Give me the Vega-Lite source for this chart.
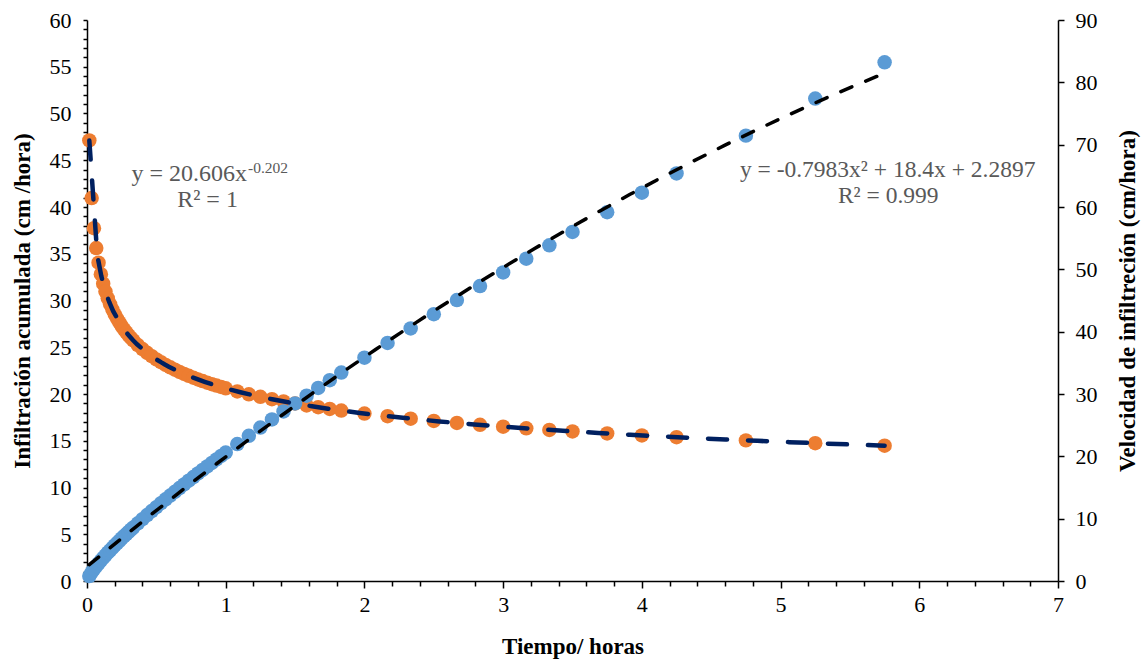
{
  "$schema": "https://vega.github.io/schema/vega-lite/v6.json",
  "width": 971,
  "height": 561,
  "autosize": {"type": "none"},
  "padding": {"left": 87, "top": 20, "right": 83, "bottom": 79},
  "background": "white",
  "config": {
    "view": {"stroke": null},
    "font": "Liberation Serif",
    "axis": {
      "grid": false,
      "domainColor": "#000000",
      "domainWidth": 1.5,
      "tickColor": "#000000",
      "tickWidth": 1.5,
      "labelColor": "#000000",
      "labelFont": "Liberation Serif",
      "labelFontSize": 22,
      "titleFont": "Liberation Serif",
      "titleFontSize": 23,
      "titleFontWeight": "bold",
      "titleColor": "#000000",
      "labelOverlap": false,
      "labelBound": false,
      "labelFlush": false
    }
  },
  "data": {
    "values": [
      {"tiempo": 0.0167, "acumulada": 47.12, "velocidad": 0.79},
      {"tiempo": 0.0333, "acumulada": 40.96, "velocidad": 1.37},
      {"tiempo": 0.05, "acumulada": 37.74, "velocidad": 1.89},
      {"tiempo": 0.0667, "acumulada": 35.61, "velocidad": 2.37},
      {"tiempo": 0.0833, "acumulada": 34.04, "velocidad": 2.84},
      {"tiempo": 0.1, "acumulada": 32.81, "velocidad": 3.28},
      {"tiempo": 0.1167, "acumulada": 31.8, "velocidad": 3.71},
      {"tiempo": 0.1333, "acumulada": 30.96, "velocidad": 4.13},
      {"tiempo": 0.15, "acumulada": 30.23, "velocidad": 4.54},
      {"tiempo": 0.1667, "acumulada": 29.59, "velocidad": 4.93},
      {"tiempo": 0.1833, "acumulada": 29.03, "velocidad": 5.32},
      {"tiempo": 0.2, "acumulada": 28.52, "velocidad": 5.7},
      {"tiempo": 0.2167, "acumulada": 28.07, "velocidad": 6.08},
      {"tiempo": 0.2333, "acumulada": 27.65, "velocidad": 6.45},
      {"tiempo": 0.25, "acumulada": 27.27, "velocidad": 6.82},
      {"tiempo": 0.2667, "acumulada": 26.91, "velocidad": 7.18},
      {"tiempo": 0.2833, "acumulada": 26.59, "velocidad": 7.53},
      {"tiempo": 0.3, "acumulada": 26.28, "velocidad": 7.88},
      {"tiempo": 0.3167, "acumulada": 25.99, "velocidad": 8.23},
      {"tiempo": 0.3333, "acumulada": 25.73, "velocidad": 8.58},
      {"tiempo": 0.3667, "acumulada": 25.24, "velocidad": 9.25},
      {"tiempo": 0.4, "acumulada": 24.8, "velocidad": 9.92},
      {"tiempo": 0.4333, "acumulada": 24.4, "velocidad": 10.57},
      {"tiempo": 0.4667, "acumulada": 24.04, "velocidad": 11.22},
      {"tiempo": 0.5, "acumulada": 23.7, "velocidad": 11.85},
      {"tiempo": 0.5333, "acumulada": 23.4, "velocidad": 12.48},
      {"tiempo": 0.5667, "acumulada": 23.11, "velocidad": 13.1},
      {"tiempo": 0.6, "acumulada": 22.85, "velocidad": 13.71},
      {"tiempo": 0.6333, "acumulada": 22.6, "velocidad": 14.31},
      {"tiempo": 0.6667, "acumulada": 22.36, "velocidad": 14.91},
      {"tiempo": 0.7, "acumulada": 22.15, "velocidad": 15.5},
      {"tiempo": 0.7333, "acumulada": 21.94, "velocidad": 16.09},
      {"tiempo": 0.7667, "acumulada": 21.74, "velocidad": 16.67},
      {"tiempo": 0.8, "acumulada": 21.56, "velocidad": 17.25},
      {"tiempo": 0.8333, "acumulada": 21.38, "velocidad": 17.82},
      {"tiempo": 0.8667, "acumulada": 21.21, "velocidad": 18.38},
      {"tiempo": 0.9, "acumulada": 21.05, "velocidad": 18.94},
      {"tiempo": 0.9333, "acumulada": 20.9, "velocidad": 19.5},
      {"tiempo": 0.9667, "acumulada": 20.75, "velocidad": 20.06},
      {"tiempo": 1.0, "acumulada": 20.61, "velocidad": 20.61},
      {"tiempo": 1.0833, "acumulada": 20.28, "velocidad": 21.97},
      {"tiempo": 1.1667, "acumulada": 19.97, "velocidad": 23.3},
      {"tiempo": 1.25, "acumulada": 19.7, "velocidad": 24.62},
      {"tiempo": 1.3333, "acumulada": 19.44, "velocidad": 25.92},
      {"tiempo": 1.4167, "acumulada": 19.21, "velocidad": 27.21},
      {"tiempo": 1.5, "acumulada": 18.99, "velocidad": 28.48},
      {"tiempo": 1.5833, "acumulada": 18.78, "velocidad": 29.73},
      {"tiempo": 1.6667, "acumulada": 18.59, "velocidad": 30.98},
      {"tiempo": 1.75, "acumulada": 18.4, "velocidad": 32.21},
      {"tiempo": 1.8333, "acumulada": 18.23, "velocidad": 33.43},
      {"tiempo": 2.0, "acumulada": 17.91, "velocidad": 35.83},
      {"tiempo": 2.1667, "acumulada": 17.63, "velocidad": 38.19},
      {"tiempo": 2.3333, "acumulada": 17.36, "velocidad": 40.52},
      {"tiempo": 2.5, "acumulada": 17.12, "velocidad": 42.81},
      {"tiempo": 2.6667, "acumulada": 16.9, "velocidad": 45.07},
      {"tiempo": 2.8333, "acumulada": 16.7, "velocidad": 47.31},
      {"tiempo": 3.0, "acumulada": 16.5, "velocidad": 49.51},
      {"tiempo": 3.1667, "acumulada": 16.33, "velocidad": 51.7},
      {"tiempo": 3.3333, "acumulada": 16.16, "velocidad": 53.86},
      {"tiempo": 3.5, "acumulada": 16.0, "velocidad": 56.0},
      {"tiempo": 3.75, "acumulada": 15.78, "velocidad": 59.16},
      {"tiempo": 4.0, "acumulada": 15.57, "velocidad": 62.29},
      {"tiempo": 4.25, "acumulada": 15.38, "velocidad": 65.38},
      {"tiempo": 4.75, "acumulada": 15.04, "velocidad": 71.45},
      {"tiempo": 5.25, "acumulada": 14.74, "velocidad": 77.39},
      {"tiempo": 5.75, "acumulada": 14.47, "velocidad": 83.21}
    ]
  },
  "encoding": {
    "x": {
      "field": "tiempo",
      "type": "quantitative",
      "title": "Tiempo/ horas",
      "scale": {"domain": [0, 7], "nice": false, "zero": true},
      "axis": {
        "values": [0, 0.2, 0.4, 0.6, 0.8, 1, 1.2, 1.4, 1.6, 1.8, 2, 2.2, 2.4, 2.6, 2.8, 3, 3.2, 3.4, 3.6, 3.8, 4, 4.2, 4.4, 4.6, 4.8, 5, 5.2, 5.4, 5.6, 5.8, 6, 6.2, 6.4, 6.6, 6.8, 7],
        "labelExpr": "datum.value % 1 === 0 ? format(datum.value, 'd') : ''",
        "tickSize": {"condition": {"test": "datum.value % 1 === 0", "value": 7}, "value": 5},
        "labelPadding": 6,
        "titleX": 485.5,
        "titleY": 65,
        "titleBaseline": "middle",
        "titleAlign": "center"
      }
    }
  },
  "layer": [
    {
      "mark": {"type": "point", "filled": true, "size": 210, "color": "#ED7D31", "opacity": 1},
      "encoding": {
        "y": {
          "field": "acumulada",
          "type": "quantitative",
          "title": "Infiltración acumulada (cm /hora)",
          "scale": {"domain": [0, 60], "nice": false},
          "axis": {
            "orient": "left",
            "values": [0, 1, 2, 3, 4, 5, 6, 7, 8, 9, 10, 11, 12, 13, 14, 15, 16, 17, 18, 19, 20, 21, 22, 23, 24, 25, 26, 27, 28, 29, 30, 31, 32, 33, 34, 35, 36, 37, 38, 39, 40, 41, 42, 43, 44, 45, 46, 47, 48, 49, 50, 51, 52, 53, 54, 55, 56, 57, 58, 59, 60],
            "labelExpr": "datum.value % 5 === 0 ? format(datum.value, 'd') : ''",
            "tickSize": 4,
            "labelPadding": 12,
            "titleX": -65,
            "titleY": 280.5,
            "titleAngle": -90,
            "titleAlign": "center",
            "titleBaseline": "middle"
          }
        }
      }
    },
    {
      "mark": {"type": "point", "filled": true, "size": 210, "color": "#5B9BD5", "opacity": 1},
      "encoding": {
        "y": {
          "field": "velocidad",
          "type": "quantitative",
          "title": "Velocidad de infiltreción (cm/hora)",
          "scale": {"domain": [0, 90], "nice": false},
          "axis": {
            "orient": "right",
            "values": [0, 10, 20, 30, 40, 50, 60, 70, 80, 90],
            "tickSize": 6,
            "labelPadding": 11,
            "titleX": 69,
            "titleY": 280.5,
            "titleAngle": -90,
            "titleAlign": "center",
            "titleBaseline": "middle"
          }
        }
      }
    },
    {
      "transform": [{"regression": "acumulada", "on": "tiempo", "method": "pow"}],
      "mark": {"type": "line", "color": "#002060", "strokeWidth": 4.5, "strokeDash": [19, 21], "strokeCap": "round"},
      "encoding": {
        "y": {"field": "acumulada", "type": "quantitative", "scale": {"domain": [0, 60], "nice": false}, "axis": null}
      }
    },
    {
      "transform": [{"regression": "velocidad", "on": "tiempo", "method": "poly", "order": 2}],
      "mark": {"type": "line", "color": "#000000", "strokeWidth": 3.5, "strokeDash": [12, 15], "strokeCap": "round"},
      "encoding": {
        "y": {"field": "velocidad", "type": "quantitative", "scale": {"domain": [0, 90], "nice": false}, "axis": null}
      }
    },
    {
      "transform": [{"filter": "datum.tiempo === 5.75"}],
      "mark": {"type": "text", "text": "y = 20.606x", "font": "Liberation Serif", "fontSize": 24, "color": "#595959", "align": "right", "baseline": "alphabetic"},
      "encoding": {
        "x": {"datum": 1.154, "type": "quantitative"},
        "y": {"datum": 42.78, "type": "quantitative", "scale": {"domain": [0, 60], "nice": false}, "axis": null}
      }
    },
    {
      "transform": [{"filter": "datum.tiempo === 5.75"}],
      "mark": {"type": "text", "text": "-0.202", "font": "Liberation Serif", "fontSize": 15.5, "color": "#595959", "align": "left", "baseline": "alphabetic"},
      "encoding": {
        "x": {"datum": 1.161, "type": "quantitative"},
        "y": {"datum": 43.6, "type": "quantitative", "scale": {"domain": [0, 60], "nice": false}, "axis": null}
      }
    },
    {
      "transform": [{"filter": "datum.tiempo === 5.75"}],
      "mark": {"type": "text", "text": "R² = 1", "font": "Liberation Serif", "fontSize": 24, "color": "#595959", "align": "center", "baseline": "alphabetic"},
      "encoding": {
        "x": {"datum": 0.869, "type": "quantitative"},
        "y": {"datum": 40.0, "type": "quantitative", "scale": {"domain": [0, 60], "nice": false}, "axis": null}
      }
    },
    {
      "transform": [{"filter": "datum.tiempo === 5.75"}],
      "mark": {"type": "text", "text": "y = -0.7983x² + 18.4x + 2.2897", "font": "Liberation Serif", "fontSize": 23.5, "color": "#595959", "align": "center", "baseline": "alphabetic"},
      "encoding": {
        "x": {"datum": 5.772, "type": "quantitative"},
        "y": {"datum": 64.77, "type": "quantitative", "scale": {"domain": [0, 90], "nice": false}, "axis": null}
      }
    },
    {
      "transform": [{"filter": "datum.tiempo === 5.75"}],
      "mark": {"type": "text", "text": "R² = 0.999", "font": "Liberation Serif", "fontSize": 23.5, "color": "#595959", "align": "center", "baseline": "alphabetic"},
      "encoding": {
        "x": {"datum": 5.776, "type": "quantitative"},
        "y": {"datum": 60.6, "type": "quantitative", "scale": {"domain": [0, 90], "nice": false}, "axis": null}
      }
    }
  ],
  "resolve": {"scale": {"y": "independent"}}
}
